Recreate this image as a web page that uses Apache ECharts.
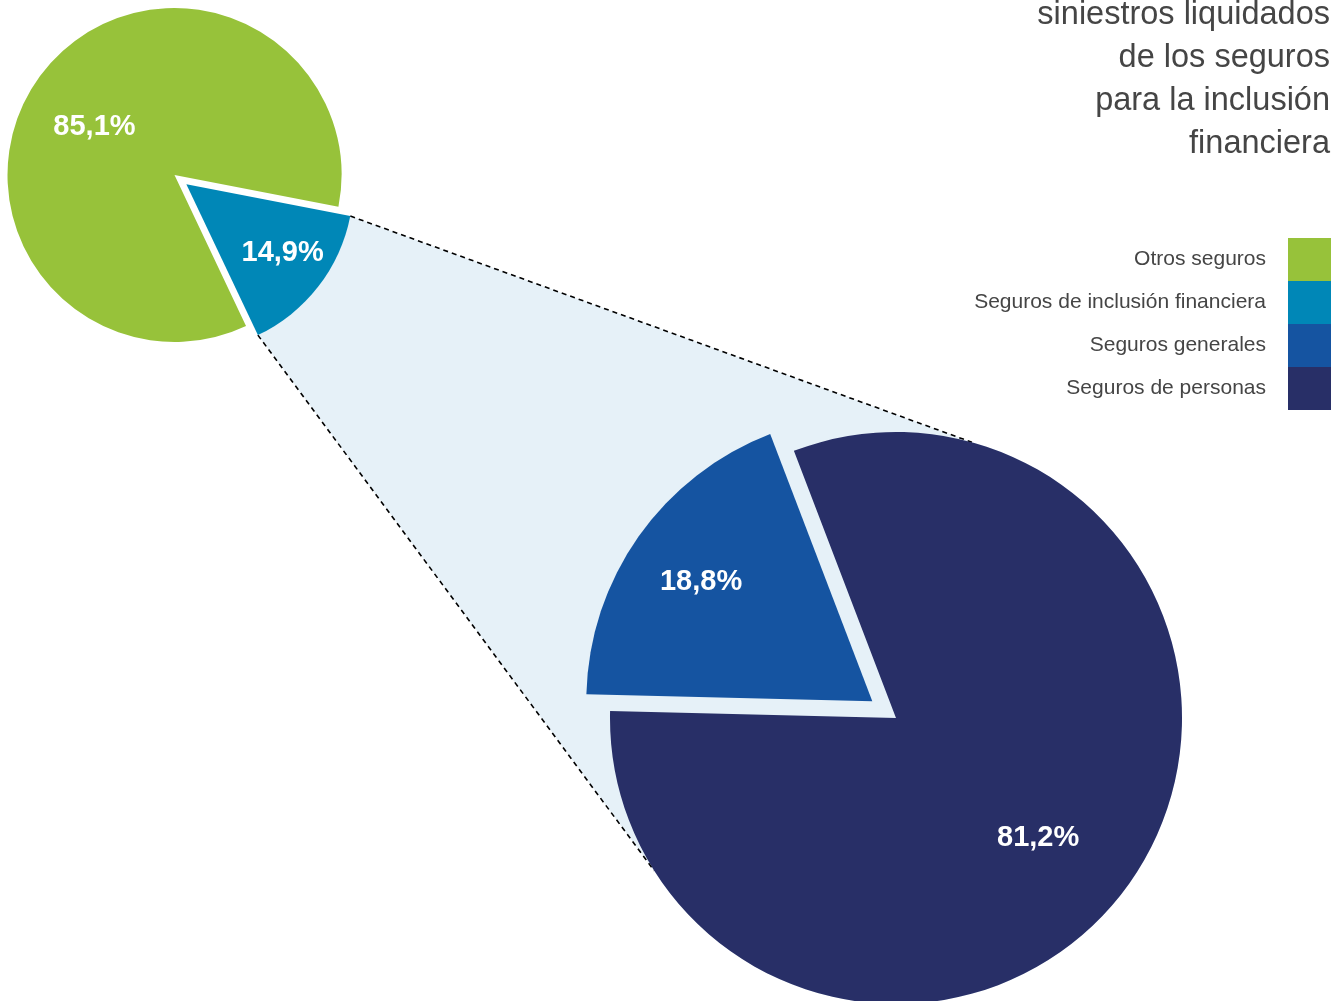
<!DOCTYPE html>
<html>
<head>
<meta charset="utf-8">
<script src="https://cdn.jsdelivr.net/npm/echarts@6/dist/echarts.min.js"></script>
<style>
html,body{margin:0;padding:0;background:#fff;}
#chart{width:1337px;height:1001px;}
</style>
</head>
<body>
<div id="chart"></div>
<script>
// ---- data ----
const titleLines = ['siniestros liquidados', 'de los seguros', 'para la inclusión', 'financiera'];
const smallNames = ['Seguros de inclusión financiera', 'Otros seguros'];
const smallValues = [14.9, 85.1];
const bigNames = ['Seguros generales', 'Seguros de personas'];
const bigValues = [18.8, 81.2];
const legendOrder = ['Otros seguros', 'Seguros de inclusión financiera', 'Seguros generales', 'Seguros de personas'];
const colors = {
  'Otros seguros': '#97c23a',
  'Seguros de inclusión financiera': '#0087b7',
  'Seguros generales': '#1554a1',
  'Seguros de personas': '#282f67'
};

// ---- layout ----
const SMALL = {cx: 174.5, cy: 175, r: 167, offset: 15, start: -11};
const BIG = {cx: 896, cy: 718, r: 286, offset: 29, start: 178.6};
const connectAngles = [74.6, 212.3]; // where the connector lines meet the big pie
const labelRatio = [[0.69, 0.54], [0.72, 0.64]]; // radial position of labels
const labelAngleShift = [[2.4, 7.3], [0.3, -5]];
const FILL = '#e6f1f8';
const deg = Math.PI / 180;

function sum(a) { return a.reduce((s, v) => s + v, 0); }
const smallSpan = smallValues[0] / sum(smallValues) * 360;
const smallMid = SMALL.start - smallSpan / 2;
const apex = [SMALL.cx + SMALL.offset * Math.cos(smallMid * deg), SMALL.cy - SMALL.offset * Math.sin(smallMid * deg)];
const P1 = [apex[0] + SMALL.r * Math.cos(SMALL.start * deg), apex[1] - SMALL.r * Math.sin(SMALL.start * deg)];
const P4 = [apex[0] + SMALL.r * Math.cos((SMALL.start - smallSpan) * deg), apex[1] - SMALL.r * Math.sin((SMALL.start - smallSpan) * deg)];
const P2 = [BIG.cx + BIG.r * Math.cos(connectAngles[0] * deg), BIG.cy - BIG.r * Math.sin(connectAngles[0] * deg)];
const P3 = [BIG.cx + BIG.r * Math.cos(connectAngles[1] * deg), BIG.cy - BIG.r * Math.sin(connectAngles[1] * deg)];

function makeData(names, values) {
  return names.map((n, i) => ({
    name: n, value: values[i], selected: i === 0,
    itemStyle: {color: colors[n]}
  }));
}
const fmt = p => p.value.toFixed(1).replace('.', ',') + '%';
const pies = [SMALL, BIG];

function makeLabelLayout(si) {
  return function (params) {
    const p = pies[si];
    const lr = params.labelRect;
    const lx = lr.x + lr.width / 2, ly = lr.y + lr.height / 2;
    const vx = lx - p.cx, vy = ly - p.cy;
    const m = Math.atan2(-vy, vx);
    const sx = lx - 0.5 * p.r * Math.cos(m), sy = ly + 0.5 * p.r * Math.sin(m);
    const a = m + labelAngleShift[si][params.dataIndex] * deg;
    const d = labelRatio[si][params.dataIndex] * p.r;
    const tx = sx + d * Math.cos(a), ty = sy - d * Math.sin(a);
    return {dx: tx - lx, dy: ty - ly};
  };
}

const chart = echarts.init(document.getElementById('chart'), null, {renderer: 'canvas'});
const lineStyle = {stroke: '#000', lineWidth: 1.6, lineDash: [5, 4]};
const labelCfg = {show: true, position: 'inside', formatter: fmt, color: '#fff', fontFamily: 'Liberation Sans', fontWeight: 'bold', fontSize: 29};

chart.setOption({
  animation: false,
  title: {
    text: titleLines.join('\n'),
    left: 'right', top: -6, padding: [0, 7, 0, 0],
    textStyle: {fontFamily: 'Liberation Sans', fontSize: 32.5, fontWeight: 'normal', color: '#454545', lineHeight: 43}
  },
  legend: {
    data: legendOrder,
    orient: 'vertical', right: 6, top: 238, padding: 0,
    align: 'right', itemWidth: 43, itemHeight: 43, itemGap: 0,
    icon: 'rect', selectedMode: false,
    textStyle: {fontFamily: 'Liberation Sans', fontSize: 21, color: '#454545', padding: [2, 17, 0, 0]}
  },
  graphic: [
    {type: 'circle', z: 0, silent: true, shape: {cx: BIG.cx, cy: BIG.cy, r: BIG.r}, style: {fill: FILL}},
    {type: 'polygon', z: 0, silent: true, shape: {points: [P1, P2, P3, P4]}, style: {fill: FILL}},
    {type: 'line', z: 1, silent: true, shape: {x1: P1[0], y1: P1[1], x2: P2[0], y2: P2[1]}, style: lineStyle},
    {type: 'line', z: 1, silent: true, shape: {x1: P4[0], y1: P4[1], x2: P3[0], y2: P3[1]}, style: lineStyle}
  ],
  series: [
    {
      type: 'pie', z: 5, center: [SMALL.cx, SMALL.cy], radius: [0, SMALL.r],
      startAngle: SMALL.start, clockwise: true,
      selectedMode: 'multiple', selectedOffset: SMALL.offset,
      avoidLabelOverlap: false, emphasis: {disabled: true},
      label: labelCfg, labelLine: {show: false},
      labelLayout: makeLabelLayout(0),
      data: makeData(smallNames, smallValues)
    },
    {
      type: 'pie', z: 5, center: [BIG.cx, BIG.cy], radius: [0, BIG.r],
      startAngle: BIG.start, clockwise: true,
      selectedMode: 'multiple', selectedOffset: BIG.offset,
      avoidLabelOverlap: false, emphasis: {disabled: true},
      label: labelCfg, labelLine: {show: false},
      labelLayout: makeLabelLayout(1),
      data: makeData(bigNames, bigValues)
    }
  ]
});
</script>
</body>
</html>
